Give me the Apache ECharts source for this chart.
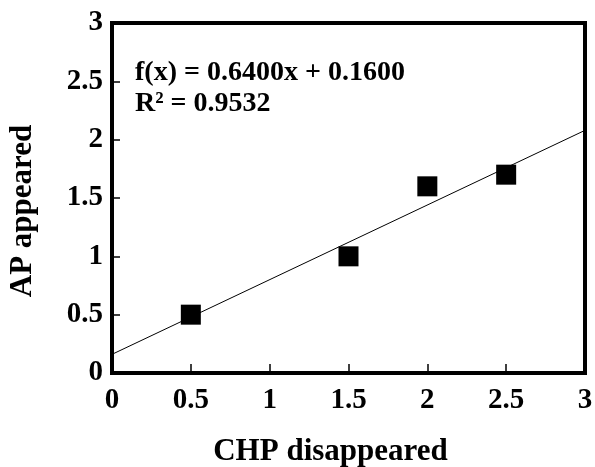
<!DOCTYPE html>
<html><head><meta charset="utf-8">
<script src="https://cdn.jsdelivr.net/npm/echarts@6/dist/echarts.min.js"></script>
<style>html,body{margin:0;padding:0;background:#fff}#c{width:595px;height:467px}</style>
</head><body><div id="c"></div>
<script>
const xValues = [0.5, 1.5, 2.0, 2.5];
const yValues = [0.5, 1.0, 1.6, 1.7];
const slope = 0.64, intercept = 0.16;
const trendX = [0, 3];
const eqLines = ['f(x) = 0.6400x + 0.1600', 'R² = 0.9532'];
const xName = 'CHP disappeared', yName = 'AP appeared';

const font = '"Liberation Serif", "Times New Roman", serif';
const chart = echarts.init(document.getElementById('c'), null, {renderer: 'canvas'});
const axisCommon = {
  type: 'value', min: 0, max: 3, interval: 0.5,
  nameLocation: 'middle',
  axisLine: {show: true, lineStyle: {color: '#000', width: 4}},
  splitLine: {show: false},
  axisLabel: {fontFamily: font, fontWeight: 'bold', fontSize: 29, color: '#000'}
};
chart.setOption({
  animation: false,
  backgroundColor: '#fff',
  grid: {left: 112, right: 10, top: 23, bottom: 94, show: true, borderColor: '#000', borderWidth: 4,
         containLabel: false, outerBoundsMode: 'none'},
  xAxis: Object.assign({}, axisCommon, {name: xName, nameGap: 63,
    nameTextStyle: {fontFamily: font, fontWeight: 'bold', fontSize: 31, color: '#000', padding: [0, 36, 0, 0]},
    axisTick: {show: true, inside: true, length: 9, lineStyle: {color: '#000', width: 1.5}},
    axisLabel: Object.assign({}, axisCommon.axisLabel, {margin: 13})}),
  yAxis: Object.assign({}, axisCommon, {name: yName, nameGap: 74,
    nameTextStyle: {fontFamily: font, fontWeight: 'bold', fontSize: 31, color: '#000', padding: [0, 26, 0, 0]},
    axisTick: {show: true, inside: true, length: 8, lineStyle: {color: '#000', width: 1.5}},
    axisLabel: Object.assign({}, axisCommon.axisLabel, {margin: 9})}),
  series: [
    {type: 'line', data: trendX.map(x => [x, slope * x + intercept]), symbol: 'none',
     lineStyle: {color: '#000', width: 1}, silent: true, z: 1},
    {type: 'scatter', data: xValues.map((x, i) => [x, yValues[i]]), symbol: 'rect', symbolSize: 20,
     itemStyle: {color: '#000', opacity: 1}, z: 2}
  ],
  graphic: [{type: 'text', left: 135, top: 57,
    style: {text: eqLines.join('\n'), fontFamily: font, fontWeight: 'bold', fontSize: 28, lineHeight: 31, fill: '#000'}}]
});
</script></body></html>
